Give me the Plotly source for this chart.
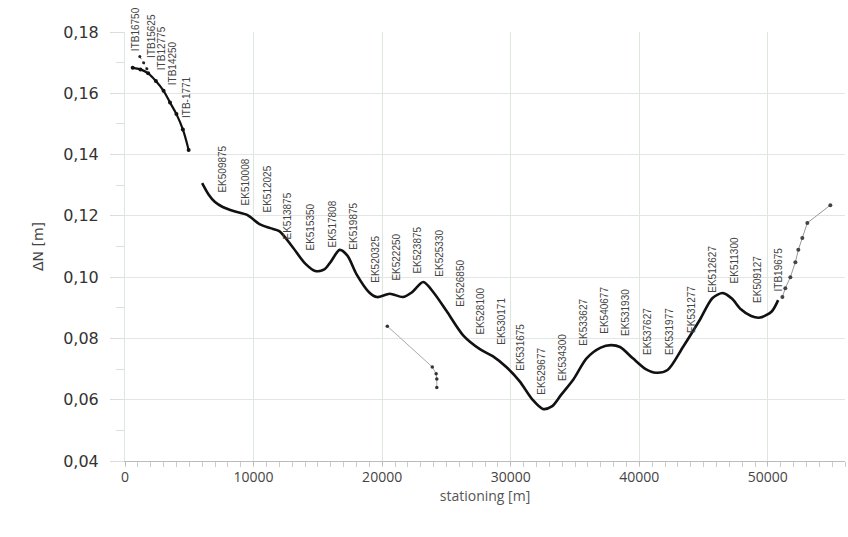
import plotly.graph_objects as go

# --- data -------------------------------------------------------------
# western segment (ITB)
seg1_station = [600, 1200, 1800, 2400, 3000, 3500, 4000, 4500, 4950]
seg1_dn = [0.1683, 0.1678, 0.1665, 0.1640, 0.1608, 0.1570, 0.1532, 0.1482, 0.1415]

# short spur above the western segment
spur_station = [1150, 1450, 1700]
spur_dn = [0.1720, 0.1700, 0.1680]

# main segment (EK)
main_station = [6000, 6500, 7000, 7600, 8500, 9500, 10500, 11300, 12000, 13000,
                14000, 14800, 15500, 16000, 16700, 17300, 18000, 19000, 19600, 20600,
                21600, 22300, 23200, 24000, 25000, 26300, 27600, 28600, 29700, 30700,
                31700, 32500, 33200, 33900, 34900, 35900, 37000, 37800, 38500, 39500,
                40500, 41300, 42200, 43400, 44700, 45700, 46500, 47200, 47900, 48700,
                49400, 50300, 50800]
main_dn = [0.1307, 0.1270, 0.1245, 0.1229, 0.1215, 0.1203, 0.1172, 0.1160, 0.1150, 0.1100,
           0.1045, 0.1020, 0.1025, 0.1050, 0.1089, 0.1070, 0.1010, 0.0950, 0.0935, 0.0946,
           0.0935, 0.0950, 0.0984, 0.0950, 0.0890, 0.0810, 0.0765, 0.0742, 0.0705, 0.0660,
           0.0600, 0.0570, 0.0578, 0.0615, 0.0668, 0.0735, 0.0770, 0.0778, 0.0772, 0.0735,
           0.0700, 0.0688, 0.0697, 0.0772, 0.0860, 0.0932, 0.0948, 0.0930, 0.0895, 0.0873,
           0.0868, 0.0888, 0.0925]

# eastern segment
east_station = [51130, 51360, 51750, 52140, 52370, 52680, 53070, 54860]
east_dn = [0.0935, 0.0964, 0.1000, 0.1049, 0.1089, 0.1128, 0.1177, 0.1235]

# isolated branch
branch_station = [20400, 23900, 24200, 24250, 24250]
branch_dn = [0.0840, 0.0707, 0.0685, 0.0668, 0.0640]

# point labels (station, value at the foot of the label)
top_labels = ["ITB16750", "ITB15625", "ITB12775", "ITB14250", "ITB-1771"]
top_label_station = [778, 2101, 2802, 3658, 4825]
top_label_dn = [0.1731, 0.1709, 0.1669, 0.1620, 0.1513]

main_labels = ["EK509875", "EK510008", "EK512025", "EK513875", "EK515350", "EK517808",
               "EK519875", "EK520325", "EK522250", "EK523875", "EK525330", "EK526850",
               "EK528100", "EK530171", "EK531675", "EK529677", "EK534300", "EK533627",
               "EK540677", "EK531930", "EK537627", "EK531977", "EK531277", "EK512627",
               "EK511300", "EK509127", "ITB19675"]
main_label_station = [7549, 9339, 11051, 12607, 14397, 16109, 17743, 19455, 21089, 22724,
                      24436, 26070, 27626, 29261, 30739, 32374, 34008, 35642, 37276, 38911,
                      40623, 42335, 44047, 45681, 47393, 49183, 50817]
main_label_dn = [0.1268, 0.1226, 0.1203, 0.1115, 0.1079, 0.1089, 0.1082, 0.0974, 0.0981,
                 0.1004, 0.0994, 0.0896, 0.0805, 0.0772, 0.0687, 0.0609, 0.0654, 0.0769,
                 0.0808, 0.0801, 0.0739, 0.0739, 0.0811, 0.0942, 0.0974, 0.0909, 0.0948]

x_ticks = [0, 10000, 20000, 30000, 40000, 50000]
y_ticks = [0.04, 0.06, 0.08, 0.10, 0.12, 0.14, 0.16, 0.18]
y_tick_text = ["0,04", "0,06", "0,08", "0,10", "0,12", "0,14", "0,16", "0,18"]

# --- figure -----------------------------------------------------------
fig = go.Figure()

fig.add_trace(go.Scatter(x=spur_station, y=spur_dn, mode="lines+markers",
                         line=dict(color="#555", width=1, dash="dot"),
                         marker=dict(size=3, color="#222")))
fig.add_trace(go.Scatter(x=seg1_station, y=seg1_dn, mode="lines+markers",
                         line=dict(color="#111", width=2.2, shape="spline"),
                         marker=dict(size=4, color="#111")))
fig.add_trace(go.Scatter(x=main_station, y=main_dn, mode="lines",
                         line=dict(color="#111", width=2.6, shape="spline", smoothing=0.8)))
fig.add_trace(go.Scatter(x=east_station, y=east_dn, mode="lines+markers",
                         line=dict(color="#999", width=1),
                         marker=dict(size=4, color="#444")))
fig.add_trace(go.Scatter(x=branch_station, y=branch_dn, mode="lines+markers",
                         line=dict(color="#aaa", width=1),
                         marker=dict(size=3.5, color="#333")))

label_font = dict(family="Liberation Sans", size=10, color="#444")
for txt, sx, dn in zip(top_labels + main_labels,
                       top_label_station + main_label_station,
                       top_label_dn + main_label_dn):
    fig.add_annotation(x=sx, y=dn, text=txt, textangle=-90, showarrow=False,
                       xanchor="center", yanchor="bottom", font=label_font)

fig.update_layout(
    width=848, height=537,
    margin=dict(l=125, r=3, t=32, b=76),
    plot_bgcolor="white", paper_bgcolor="white",
    showlegend=False,
)
fig.update_xaxes(
    range=[0, 56000], tickvals=x_ticks, ticktext=[str(v) for v in x_ticks],
    showgrid=True, gridcolor="#dce8dc", gridwidth=1, zeroline=False,
    showline=True, linecolor="#bbb", linewidth=1,
    ticks="outside", ticklen=3, tickcolor="#bbb",
    minor=dict(dtick=1000, ticks="outside", ticklen=5, tickcolor="#ccc"),
    tickfont=dict(family="Open Sans", size=14, color="#444"),
    title=dict(text="stationing [m]", font=dict(family="Open Sans", size=14, color="#555"),
               standoff=6),
)
fig.update_yaxes(
    range=[0.04, 0.18], tickvals=y_ticks, ticktext=y_tick_text,
    showgrid=True, gridcolor="#e2e6e2", gridwidth=1, zeroline=False,
    showline=True, linecolor="#dde8dd", linewidth=1,
    ticks="outside", ticklen=14, tickcolor="#ddd", ticklabelstandoff=8,
    minor=dict(dtick=0.01, ticks="outside", ticklen=8, tickcolor="#ddd"),
    tickfont=dict(family="DejaVu Sans", size=16, color="#333"),
    title=dict(text="ΔN [m]", font=dict(family="DejaVu Sans", size=14, color="#444"),
               standoff=16),
)

fig.write_html("out.html")
